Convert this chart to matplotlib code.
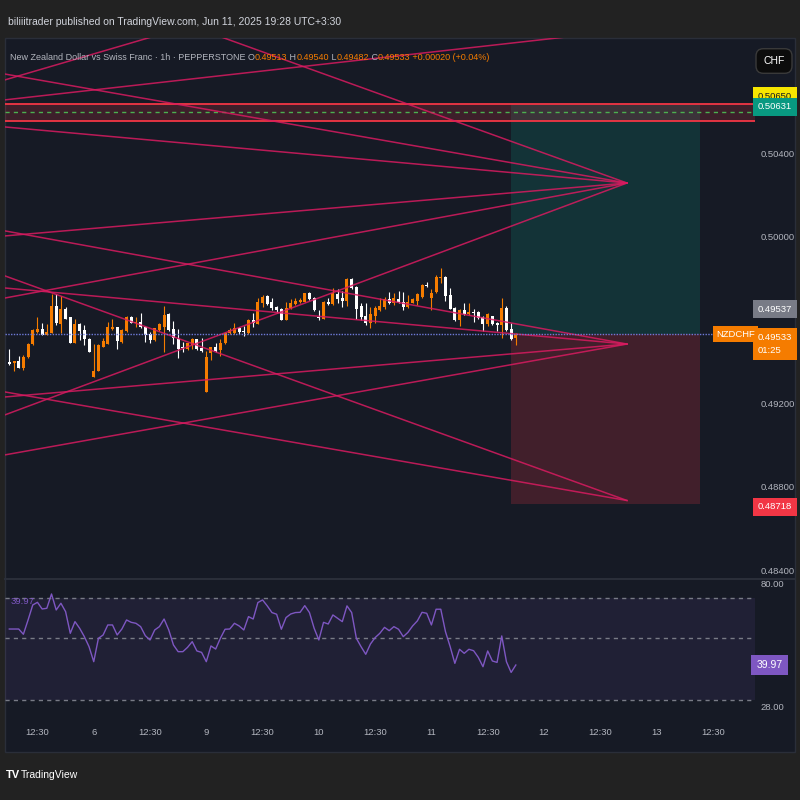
import numpy as np
import matplotlib.pyplot as plt
from matplotlib.patches import Rectangle
from matplotlib.transforms import blended_transform_factory
from matplotlib.offsetbox import TextArea, HPacker, AnnotationBbox

plt.rcParams['font.family'] = ['Liberation Sans', 'DejaVu Sans']

# --- NZDCHF 1h candles ---
opens = [0.49400, 0.49395, 0.49405, 0.49371, 0.49424, 0.49486, 0.49544, 0.49558, 0.49530, 0.49539,
         0.49669, 0.49582, 0.49654, 0.49616, 0.49491, 0.49582, 0.49554, 0.49510, 0.49328, 0.49357,
         0.49472, 0.49486, 0.49558, 0.49568, 0.49496, 0.49549, 0.49616, 0.49587, 0.49592, 0.49568,
         0.49534, 0.49506, 0.49554, 0.49568, 0.49630, 0.49558, 0.49510, 0.49472, 0.49462, 0.49482,
         0.49510, 0.49467, 0.49256, 0.49443, 0.49472, 0.49458, 0.49491, 0.49539, 0.49539, 0.49563,
         0.49549, 0.49539, 0.49602, 0.49582, 0.49683, 0.49717, 0.49688, 0.49664, 0.49654, 0.49602,
         0.49659, 0.49678, 0.49688, 0.49688, 0.49731, 0.49707, 0.49616, 0.49606, 0.49688, 0.49678,
         0.49726, 0.49707, 0.49693, 0.49798, 0.49760, 0.49669, 0.49621, 0.49587, 0.49621, 0.49650,
         0.49664, 0.49702, 0.49683, 0.49702, 0.49688, 0.49664, 0.49683, 0.49693, 0.49712, 0.49770,
         0.49707, 0.49736, 0.49803, 0.49808, 0.49722, 0.49659, 0.49602, 0.49650, 0.49630, 0.49640,
         0.49640, 0.49616, 0.49582, 0.49621, 0.49587, 0.49578, 0.49659, 0.49558, 0.49513]
highs = [0.49462, 0.49405, 0.49429, 0.49434, 0.49491, 0.49558, 0.49616, 0.49587, 0.49582, 0.49726,
         0.49726, 0.49717, 0.49664, 0.49616, 0.49606, 0.49587, 0.49578, 0.49515, 0.49486, 0.49486,
         0.49515, 0.49592, 0.49606, 0.49568, 0.49558, 0.49621, 0.49621, 0.49616, 0.49635, 0.49573,
         0.49544, 0.49563, 0.49587, 0.49669, 0.49635, 0.49597, 0.49558, 0.49496, 0.49491, 0.49515,
         0.49510, 0.49515, 0.49453, 0.49472, 0.49491, 0.49510, 0.49544, 0.49563, 0.49587, 0.49568,
         0.49573, 0.49606, 0.49635, 0.49707, 0.49722, 0.49722, 0.49707, 0.49669, 0.49659, 0.49688,
         0.49702, 0.49707, 0.49707, 0.49731, 0.49736, 0.49712, 0.49650, 0.49693, 0.49707, 0.49755,
         0.49750, 0.49741, 0.49803, 0.49803, 0.49765, 0.49683, 0.49683, 0.49664, 0.49669, 0.49707,
         0.49712, 0.49736, 0.49731, 0.49741, 0.49736, 0.49722, 0.49707, 0.49731, 0.49775, 0.49784,
         0.49750, 0.49817, 0.49851, 0.49813, 0.49755, 0.49664, 0.49654, 0.49683, 0.49683, 0.49654,
         0.49645, 0.49621, 0.49635, 0.49621, 0.49592, 0.49707, 0.49669, 0.49587, 0.49540]
lows = [0.49386, 0.49357, 0.49371, 0.49362, 0.49419, 0.49482, 0.49539, 0.49530, 0.49530, 0.49539,
        0.49578, 0.49539, 0.49606, 0.49491, 0.49491, 0.49506, 0.49482, 0.49448, 0.49328, 0.49357,
        0.49472, 0.49486, 0.49554, 0.49462, 0.49491, 0.49544, 0.49587, 0.49568, 0.49563, 0.49496,
        0.49491, 0.49501, 0.49549, 0.49448, 0.49549, 0.49486, 0.49419, 0.49448, 0.49458, 0.49462,
        0.49458, 0.49448, 0.49256, 0.49410, 0.49448, 0.49429, 0.49486, 0.49534, 0.49534, 0.49534,
        0.49525, 0.49534, 0.49568, 0.49582, 0.49664, 0.49674, 0.49650, 0.49635, 0.49602, 0.49602,
        0.49654, 0.49674, 0.49683, 0.49688, 0.49698, 0.49645, 0.49602, 0.49606, 0.49674, 0.49674,
        0.49683, 0.49664, 0.49669, 0.49750, 0.49606, 0.49602, 0.49578, 0.49563, 0.49587, 0.49645,
        0.49654, 0.49678, 0.49674, 0.49683, 0.49650, 0.49659, 0.49683, 0.49674, 0.49707, 0.49760,
        0.49650, 0.49731, 0.49779, 0.49693, 0.49654, 0.49597, 0.49573, 0.49626, 0.49626, 0.49592,
        0.49606, 0.49549, 0.49573, 0.49578, 0.49549, 0.49515, 0.49549, 0.49506, 0.49482]
closes = [0.49390, 0.49405, 0.49371, 0.49424, 0.49486, 0.49554, 0.49558, 0.49530, 0.49544, 0.49669,
          0.49587, 0.49654, 0.49606, 0.49491, 0.49582, 0.49549, 0.49510, 0.49448, 0.49357, 0.49482,
          0.49501, 0.49568, 0.49568, 0.49501, 0.49554, 0.49616, 0.49587, 0.49592, 0.49568, 0.49530,
          0.49506, 0.49563, 0.49582, 0.49626, 0.49554, 0.49515, 0.49462, 0.49467, 0.49491, 0.49510,
          0.49462, 0.49453, 0.49424, 0.49472, 0.49453, 0.49491, 0.49539, 0.49554, 0.49563, 0.49544,
          0.49544, 0.49602, 0.49587, 0.49688, 0.49712, 0.49678, 0.49659, 0.49650, 0.49602, 0.49659,
          0.49683, 0.49693, 0.49698, 0.49731, 0.49702, 0.49650, 0.49611, 0.49688, 0.49678, 0.49731,
          0.49702, 0.49693, 0.49798, 0.49755, 0.49654, 0.49616, 0.49587, 0.49630, 0.49659, 0.49669,
          0.49702, 0.49683, 0.49707, 0.49688, 0.49664, 0.49688, 0.49702, 0.49726, 0.49770, 0.49765,
          0.49731, 0.49808, 0.49808, 0.49717, 0.49654, 0.49602, 0.49650, 0.49630, 0.49640, 0.49635,
          0.49611, 0.49582, 0.49630, 0.49582, 0.49578, 0.49659, 0.49554, 0.49510, 0.49533]

# --- RSI pane ---
rsi = [60.7, 60.7, 60.7, 58.5, 64.5, 70.8, 71.9, 69.1, 69.4, 75.4, 68.7,
       71.5, 68.0, 58.9, 63.8, 61.0, 57.5, 53.3, 47.0, 56.8, 58.2,
       62.4, 62.4, 58.2, 60.7, 64.5, 63.5, 63.1, 61.7, 57.9, 56.1,
       60.3, 61.7, 64.9, 60.3, 54.0, 51.2, 51.2, 53.0, 55.4, 51.5,
       50.9, 47.0, 53.6, 52.3, 56.8, 60.6, 60.7, 63.1, 62.0, 60.3,
       65.9, 64.9, 71.8, 72.9, 70.4, 67.6, 66.9, 60.6, 65.5, 67.0,
       67.6, 67.7, 70.5, 67.6, 61.0, 56.1, 63.5, 62.8, 66.6, 65.2,
       63.8, 70.4, 67.6, 56.8, 53.3, 50.1, 54.4, 57.1, 58.9, 61.4,
       60.0, 61.7, 60.6, 57.5, 59.3, 62.0, 64.1, 67.7, 67.3, 62.4,
       69.0, 69.0, 59.6, 53.3, 46.3, 52.2, 50.5, 52.2, 51.6, 48.8,
       44.9, 51.5, 47.3, 46.7, 57.8, 47.0, 42.5, 45.6]
rsi_levels = [73.7, 56.9, 30.9]
rsi_last_label = '39.97'

# --- drawings (bar index, price) ---
apex_idx = 131.7
apex_prices = [0.50259, 0.49486, 0.48735]
left_idx = -0.92
upper_fan = [0.50782, 0.50528, 0.50005, 0.49707, 0.49146]
middle_fan = [0.50029, 0.49755, 0.49232, 0.48954]
lower_fan = [0.49813, 0.49256]
free_lines = [[(35.3, 0.51040), (apex_idx, 0.50259)],
              [(left_idx, 0.50658), (147.3, 0.51032)],
              [(left_idx, 0.50754), (35.5, 0.50994)]]

# position tool
pos_start, pos_end = 107.0, 147.2
entry, target, stop = 0.49533, 0.50631, 0.48718
band_top, band_mid, band_bot = 0.50639, 0.50600, 0.50558

price_ticks = [0.504, 0.500, 0.492, 0.488, 0.484]
time_ticks = [6, 18, 30, 42, 54, 66, 78, 90, 102, 114, 126, 138, 150]
time_labels = ['12:30', '6', '12:30', '9', '12:30', '10', '12:30', '11',
               '12:30', '12', '12:30', '13', '12:30']

BG = '#222222'
PANE = '#161a25'
UP = '#f57c00'
DOWN = '#ffffff'
TXT = '#b2b5be'
PINK = '#d81b60'
FS = 6.8

fig = plt.figure(figsize=(8, 8), dpi=100, facecolor=BG)
W = H = 800.0

def fy(y):
    return 1 - y / H

fig.patches.append(Rectangle((5 / W, fy(752)), 790 / W, (752 - 38) / H,
                             transform=fig.transFigure, facecolor=PANE,
                             edgecolor='#2a2e39', lw=1, zorder=-5))

ax = fig.add_axes([5 / W, fy(578), 750 / W, 540 / H])
ax.set_facecolor('none')
ax.set_xlim(left_idx, 159.0)
ax.set_ylim(0.48363, 0.50955)
for s in ax.spines.values():
    s.set_visible(False)

x = np.arange(len(opens))
o = np.array(opens); c = np.array(closes); h = np.array(highs); l = np.array(lows)
cols = np.where(c >= o, UP, DOWN)
ax.vlines(x, l, h, colors=cols, lw=0.8, zorder=3)
ax.bar(x, np.maximum(np.abs(c - o), 0.00002), bottom=np.minimum(o, c),
       width=0.64, color=cols, lw=0, zorder=3)

# position boxes
ax.add_patch(Rectangle((pos_start, entry), pos_end - pos_start, target - entry,
                       facecolor='#089981', alpha=0.2, lw=0, zorder=1))
ax.add_patch(Rectangle((pos_start, stop), pos_end - pos_start, entry - stop,
                       facecolor='#f23645', alpha=0.2, lw=0, zorder=1))

# red band with green dashed line
ax.axhspan(band_bot, band_top, color='#f23645', alpha=0.18, lw=0, zorder=1)
ax.axhline(band_top, color='#f23645', lw=1.3, zorder=2)
ax.axhline(band_bot, color='#f23645', lw=1.3, zorder=2)
ax.axhline(band_mid, color='#4caf50', lw=1, ls=(0, (3, 3)), zorder=2)

# fan lines
for ap, starts in zip(apex_prices, [upper_fan, middle_fan, lower_fan]):
    for p0 in starts:
        ax.plot([left_idx, apex_idx], [p0, ap], color=PINK, lw=1.1, alpha=0.85, zorder=4)
for seg in free_lines:
    ax.plot([seg[0][0], seg[1][0]], [seg[0][1], seg[1][1]], color=PINK, lw=1.1,
            alpha=0.85, zorder=4)

# last price dotted line
ax.plot([left_idx, 152.5], [closes[-1], closes[-1]], color='#6f7bd9', lw=1,
        ls=(0, (1, 1)), zorder=5)

ax.yaxis.tick_right()
ax.set_yticks(price_ticks)
ax.set_yticklabels(['%.5f' % p for p in price_ticks])
ax.tick_params(axis='y', length=0, pad=4, labelsize=FS, labelcolor=TXT)
ax.set_xticks([])

bt = blended_transform_factory(ax.transAxes, ax.transData)

def price_label(y, text, fc, dy=0, color='white', ls=1.2):
    ax.annotate(text, xy=(1, y), xycoords=bt, xytext=(2, dy), textcoords='offset points',
                ha='left', va='center', fontsize=FS, color=color, linespacing=ls,
                bbox=dict(boxstyle='square,pad=0.5', fc=fc, ec='none'), zorder=10,
                annotation_clip=False)

price_label(0.50675, '0.50650', '#f7e600', color='#131722')
price_label(target, '0.50631', '#089981', dy=-1)
price_label(entry, '0.49537', '#787b86', dy=18)
price_label(entry, '%.5f\n01:25' % closes[-1], UP, dy=-7, ls=1.7)
price_label(stop, '0.48718', '#f23645', dy=-2)
ax.annotate('NZDCHF', xy=(0.9995, entry), xycoords=bt, ha='right', va='center',
            fontsize=FS, color='white', bbox=dict(boxstyle='square,pad=0.35', fc=UP, ec='none'),
            zorder=10)

# separator between panes
fig.add_artist(plt.Line2D([5 / W, 795 / W], [fy(579), fy(579)], color='#2a2e39', lw=1.5))

# RSI
rax = fig.add_axes([5 / W, fy(720), 750 / W, 140 / H])
rax.set_facecolor('none')
rax.set_xlim(left_idx, 159.0)
rax.set_ylim(22.54, 81.26)
for s in rax.spines.values():
    s.set_visible(False)
rax.axhspan(rsi_levels[2], rsi_levels[0], color='#7e57c2', alpha=0.1, lw=0)
for lv in rsi_levels:
    rax.axhline(lv, color='#787b86', lw=1, ls=(0, (3, 3)))
rax.plot(np.arange(len(rsi)), rsi, color='#7e57c2', lw=1)
rax.yaxis.tick_right()
rax.set_yticks([80, 28])
rax.set_yticklabels(['80.00', '28.00'])
rax.tick_params(axis='y', length=0, pad=4, labelsize=FS, labelcolor=TXT)
rax.set_xticks(time_ticks)
rax.set_xticklabels(time_labels)
rax.tick_params(axis='x', length=0, pad=6, labelsize=FS, labelcolor=TXT)
rbt = blended_transform_factory(rax.transAxes, rax.transData)
rax.text(0.008, rsi_levels[0] - 1.5, rsi_last_label, transform=rbt,
         color='#7e57c2', fontsize=FS, va='center')
rax.annotate(rsi_last_label, xy=(1, rsi[-1]), xycoords=rbt, xytext=(1, 0),
             textcoords='offset points', ha='left', va='center', fontsize=7.5, color='white',
             bbox=dict(boxstyle='square,pad=0.5', fc='#7e57c2', ec='none'), annotation_clip=False)

# header texts
fig.text(8 / W, fy(22), 'biliiitrader published on TradingView.com, Jun 11, 2025 19:28 UTC+3:30',
         color='#d1d4dc', fontsize=7.5, va='center')
GREY = '#b2b5be'
chg = closes[-1] - opens[-1]
parts = [('New Zealand Dollar vs Swiss Franc · 1h · PEPPERSTONE ', GREY),
         ('O', GREY), ('%.5f' % opens[-1], UP), (' H', GREY), ('%.5f' % highs[-1], UP),
         (' L', GREY), ('%.5f' % lows[-1], UP), (' C', GREY), ('%.5f' % closes[-1], UP),
         (' %+.5f (%+.2f%%)' % (chg, chg / opens[-1] * 100), UP)]
pack = HPacker(children=[TextArea(t, textprops=dict(color=col, fontsize=6.5)) for t, col in parts],
               sep=0, pad=0, align='baseline')
fig.add_artist(AnnotationBbox(pack, (10, H - 58), xycoords='figure pixels',
                              box_alignment=(0, 0.5), frameon=False))

fig.text(774 / W, fy(61), 'CHF', color='white', fontsize=7.5, ha='center', va='center',
         bbox=dict(boxstyle='round,pad=0.7', fc='#0c0c0c', ec='#3a3a3a'))

fig.text(6 / W, fy(775), 'TV', color='white', fontsize=8, weight='bold', va='center')
fig.text(21 / W, fy(775), 'TradingView', color='white', fontsize=7.5, va='center')

fig.savefig('out.png', dpi=100, facecolor=BG)
